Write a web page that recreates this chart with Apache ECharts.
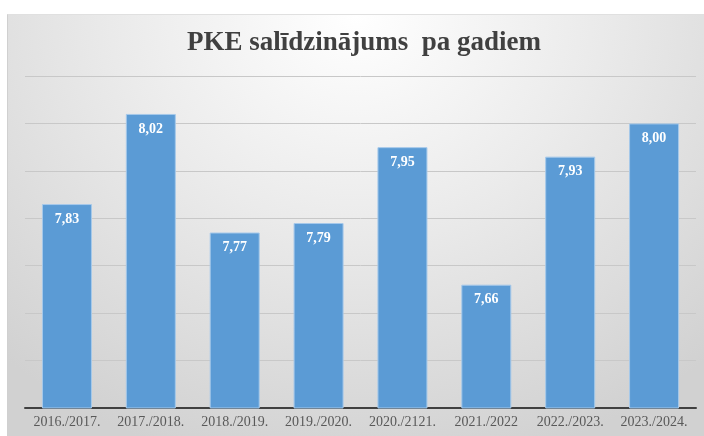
<!DOCTYPE html>
<html>
<head>
<meta charset="utf-8">
<script src="https://cdn.jsdelivr.net/npm/echarts@6/dist/echarts.min.js"></script>
<style>
  html, body { margin: 0; padding: 0; background: #fff; }
  #panel {
    position: absolute; left: 7px; top: 14px; width: 697px; height: 422px;
    background: radial-gradient(ellipse 75% 110% at 50% 0%, #ffffff 0%, #ebebeb 45%, #d1d1d1 100%);
    border-left: 1px solid #d0d0d0; border-top: 1px solid #e0e0e0;
  }
  #main { position: absolute; left: 0; top: 0; width: 704px; height: 436px; }
</style>
</head>
<body>
<div id="panel"></div>
<div id="main"></div>
<script>
  const categories = ['2016./2017.', '2017./2018.', '2018./2019.', '2019./2020.', '2020./2121.', '2021./2022', '2022./2023.', '2023./2024.'];
  const values = [7.83, 8.02, 7.77, 7.79, 7.95, 7.66, 7.93, 8.00];

  const chart = echarts.init(document.getElementById('main'));

  chart.setOption({
    backgroundColor: 'transparent',
    animation: false,
    title: {
      text: 'PKE salīdzinājums  pa gadiem',
      left: 182,
      top: 25,
      textStyle: {
        fontFamily: 'Liberation Serif',
        fontWeight: 'bold',
        fontSize: 27,
        color: '#404040'
      }
    },
    grid: { left: 25, right: 8, top: 76, bottom: 28 },
    xAxis: {
      type: 'category',
      data: categories,
      axisLine: { lineStyle: { color: '#404040', width: 2 } },
      axisTick: { show: false },
      axisLabel: {
        interval: 0,
        fontFamily: 'Liberation Serif',
        fontSize: 14,
        color: '#595959',
        margin: 7
      }
    },
    yAxis: {
      type: 'value',
      min: 7.4,
      max: 8.1,
      interval: 0.1,
      axisLabel: { show: false },
      axisLine: { show: false },
      axisTick: { show: false },
      splitLine: { lineStyle: { color: '#c8c8c8', width: 1 } }
    },
    series: [{
      type: 'bar',
      data: values,
      barWidth: 50,
      itemStyle: {
        color: '#5b9bd5',
        borderColor: '#a6c9ea',
        borderWidth: 1
      },
      label: {
        show: true,
        position: 'insideTop',
        distance: 8,
        formatter: p => p.value.toFixed(2).replace('.', ','),
        fontFamily: 'Liberation Serif',
        fontWeight: 'bold',
        fontSize: 14,
        color: '#ffffff'
      }
    }]
  });
</script>
</body>
</html>
